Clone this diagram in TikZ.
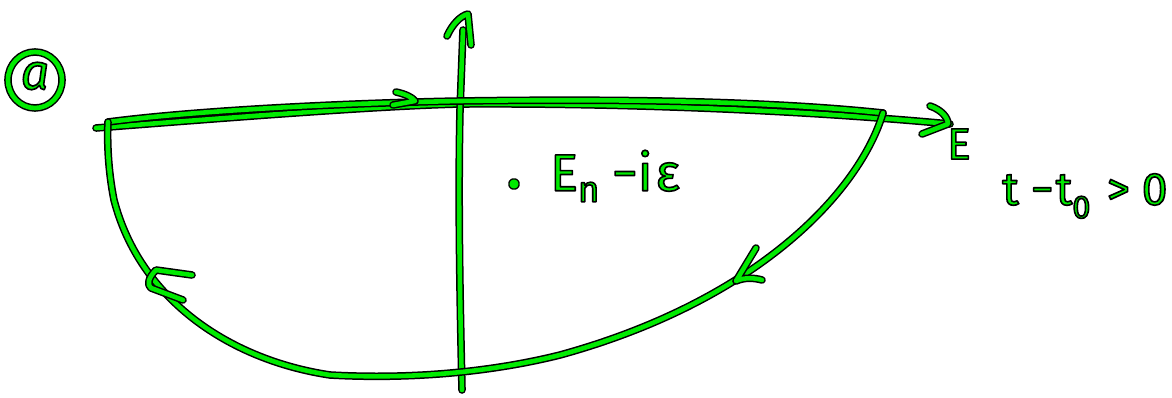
\documentclass[tikz,border=0pt]{standalone}
\usepackage{fontspec}
\setmainfont{Fira Sans}
\definecolor{hg}{RGB}{0,235,0}
\newcommand{\outl}[1]{\special{pdf:literal direct 2 Tr 0 0 0 RG 1.6 w 1 j}#1\special{pdf:literal direct 0 Tr}}
\tikzset{
  pen/.style={draw=hg, line width=4.6pt, line cap=round, line join=round,
    preaction={draw=black, line width=7.6pt, line cap=round, line join=round}},
  lbl/.style={text=hg, inner sep=0pt}
}
\begin{document}
\begin{tikzpicture}[x=1pt,y=-1pt]
\useasboundingbox (0,0) rectangle (1172,398);
% circled label
\draw[pen] (35,80) ellipse (27 and 28);
\node[lbl, font=\fontsize{50}{50}\selectfont\itshape] (la) at (35,76) {\outl{a}};
% real axis
\draw[pen] (96,128) .. controls (250,116) and (380,106) .. (460,104)
  .. controls (620,103) and (800,110) .. (950,124);
\draw[pen] (930,106) .. controls (942,110) and (948,118) .. (948,124) -- (922,134);
% E label at axis end
\node[lbl, font=\fontsize{44}{44}\selectfont] (le) at (959,144) {\outl{E}};
% imaginary axis
\draw[pen] (462,390) .. controls (460,300) and (458,200) .. (460,110) -- (463,30);
\draw[pen] (447,36) .. controls (452,25) and (460,16) .. (468,14) -- (471,45);
% contour top segment
\coordinate (tl) at (108,122);
\coordinate (tr) at (883,113);
\draw[pen] (tl) .. controls (200,110) and (350,103) .. (460,101)
  .. controls (600,99) and (760,100) .. (tr);
\draw[pen] (396,92) .. controls (405,94) and (412,97) .. (415,101) -- (393,105);
% contour arc
\draw[pen] (tr) .. controls (860,190) and (760,300) .. (560,355)
  .. controls (500,370) and (420,380) .. (330,375)
  .. controls (230,360) and (140,300) .. (114,200)
  .. controls (108,170) and (107,140) .. (tl);
% arc arrows
\draw[pen] (756,248) -- (736,281) .. controls (745,277) and (755,278) .. (762,280);
\draw[pen] (192,275) -- (156,270) .. controls (148,278) and (147,285) .. (151,288) -- (183,300);
% pole
\draw[pen] (514,184) circle (2.2);
\node[lbl, font=\fontsize{52}{52}\selectfont, anchor=west] (lp) at (550,176) {\outl{E\textsubscript{n}\hspace{12pt}−i\hspace{3pt}ε}};
% condition
\node[lbl, font=\fontsize{46}{46}\selectfont, anchor=west] (lc) at (1002,196) {\outl{t\hspace{12pt}−\hspace{2pt}t\textsubscript{0}\hspace{16pt}>\hspace{12pt}0}};
\end{tikzpicture}
\end{document}
